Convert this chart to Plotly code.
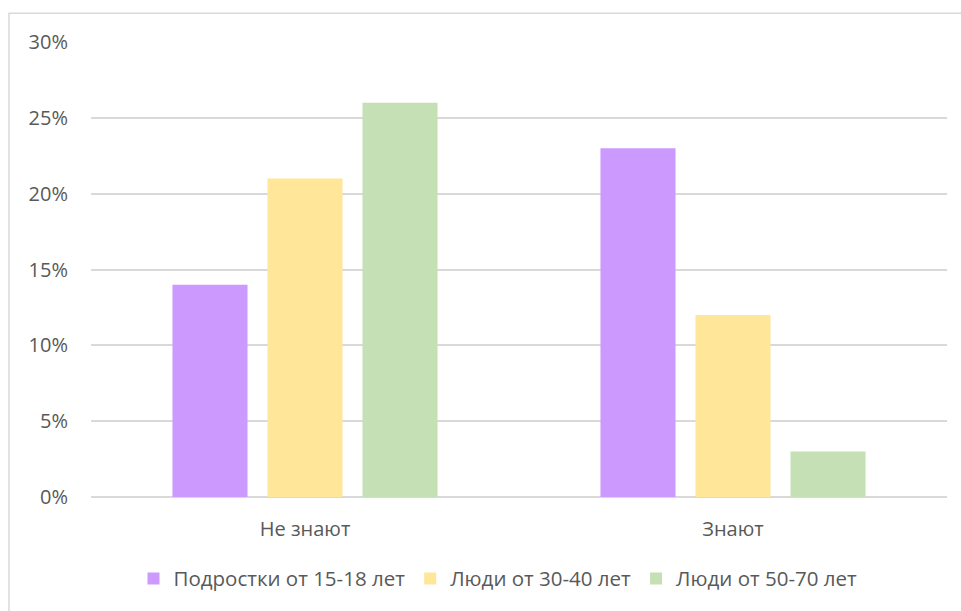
import plotly.graph_objects as go

# Survey data: share of respondents in each age group
categories = ["Не знают", "Знают"]
series_names = ["Подростки от 15-18 лет", "Люди от 30-40 лет", "Люди от 50-70 лет"]
teens = [14, 23]
adults_30_40 = [21, 12]
adults_50_70 = [26, 3]
values = [teens, adults_30_40, adults_50_70]
colors = ["#CC99FF", "#FFE699", "#C5E0B4"]
y_ticks = [0, 5, 10, 15, 20, 25, 30]
y_tick_labels = ["0%", "5%", "10%", "15%", "20%", "25%", "30%"]

FONT = "Open Sans"
TEXT = "#595959"
GRID = "#D9D9D9"

fig = go.Figure()
for name, vals, col in zip(series_names, values, colors):
    fig.add_trace(go.Bar(
        x=categories, y=vals, name=name,
        marker=dict(color=col, line=dict(width=0)),
    ))

# outer chart frame (extends past the right and bottom edges of the page)
ML, MR, MT, MB = 91, 14, 42, 112
W, H = 961, 611
pw, ph = W - ML - MR, H - MT - MB
fx0 = (9 - ML) / pw
fy1 = (H - MB - 13) / ph
fig.add_shape(type="rect", xref="paper", yref="paper",
              x0=fx0, x1=(W + 20 - ML) / pw, y0=-(MB + 20) / ph, y1=fy1,
              line=dict(color=GRID, width=1.5), layer="below")

fig.update_layout(
    width=W, height=H,
    margin=dict(l=ML, r=MR, t=MT, b=MB),
    paper_bgcolor="white", plot_bgcolor="white",
    barmode="group", bargap=0.334, bargroupgap=0.21,
    font=dict(family=FONT, size=20, color=TEXT),
    showlegend=True,
    legend=dict(orientation="h", x=(498 - ML) / pw, xanchor="center",
                y=(H - MB - 581) / ph, yanchor="middle",
                font=dict(family=FONT, size=20.5, color=TEXT),
                itemsizing="constant", traceorder="normal"),
    xaxis=dict(showgrid=False, showline=False, ticks="",
               ticklabelstandoff=18,
               tickfont=dict(family=FONT, size=20, color=TEXT)),
    yaxis=dict(range=[0, 30], tickvals=y_ticks, ticktext=y_tick_labels,
               showgrid=True, gridcolor=GRID, gridwidth=1.5,
               zeroline=True, zerolinecolor=GRID, zerolinewidth=1.5,
               showline=False, ticks="", ticklabelstandoff=22,
               tickfont=dict(family=FONT, size=20, color=TEXT)),
)

fig.write_html("out.html")
